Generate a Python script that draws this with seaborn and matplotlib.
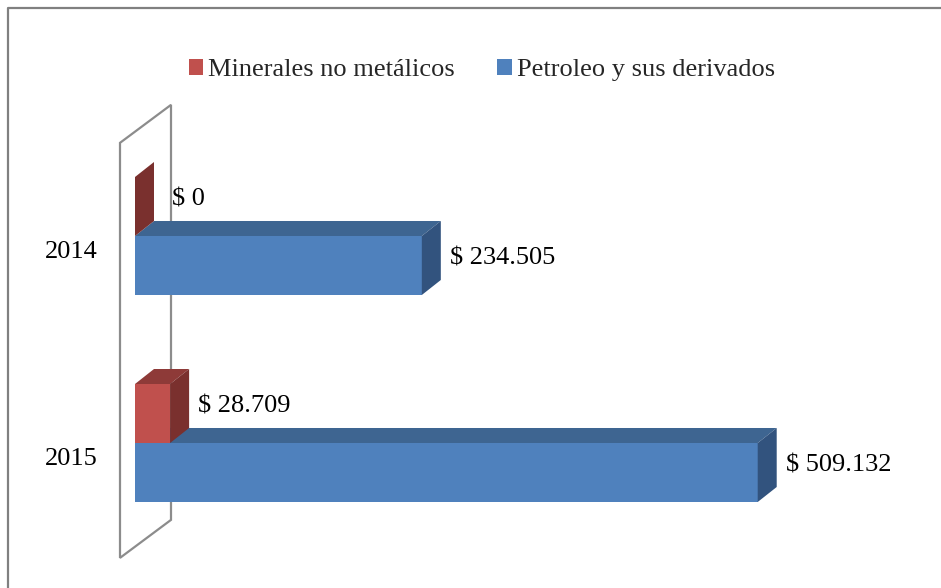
import matplotlib
matplotlib.use("Agg")
import matplotlib.pyplot as plt
from matplotlib.patches import Polygon
from matplotlib.lines import Line2D
from matplotlib.transforms import IdentityTransform, ScaledTranslation
import seaborn as sns
import pandas as pd

# data
years = ["2014", "2015"]
series = ["Minerales no metálicos", "Petroleo y sus derivados"]
minerales = [0, 28709]
petroleo = [234505, 509132]

front_col = {series[0]: "#C0504D", series[1]: "#4F81BD"}
top_col = {series[0]: "#8E3A38", series[1]: "#3E6591"}
side_col = {series[0]: "#7A302E", series[1]: "#32537E"}

df = pd.DataFrame({
    "year": years * 2,
    "serie": [series[0]] * 2 + [series[1]] * 2,
    "value": minerales + petroleo,
})

sns.set_theme(style="white")
plt.rcParams["font.family"] = ["Liberation Serif", "DejaVu Serif"]

W, H = 941, 588
FS = 19
fig = plt.figure(figsize=(W / 100, H / 100), dpi=100)
ax = fig.add_axes([135 / W, 1 - 575 / H, 795 / W, 485 / H])

sns.barplot(data=df, y="year", x="value", hue="serie", hue_order=series,
            order=years, orient="h", palette=front_col, saturation=1,
            width=0.57, linewidth=0, edgecolor="none", ax=ax)

handles, labels = ax.get_legend_handles_labels()
ax.get_legend().remove()

ax.set_xlim(0, 650000)
ax.set_ylim(1.6377, -0.7053)
ax.set_xticks([])
ax.set_xlabel("")
ax.set_ylabel("")
for s in ax.spines.values():
    s.set_visible(False)
ax.tick_params(axis="y", length=0, pad=27, labelsize=FS, labelcolor="black")
for lab in ax.get_yticklabels():
    lab.set_transform(lab.get_transform() + ScaledTranslation(0, -0.14, fig.dpi_scale_trans))

# 3D depth in pixels
dx, dy = 19, 15
ident = IdentityTransform()

for cont, name in zip(ax.containers, series):
    z = 4 if name == series[0] else 2
    for bar, val in zip(cont, cont.datavalues):
        bar.set_zorder(z)
        x0, y0 = bar.get_x(), bar.get_y()
        x1, y1 = x0 + bar.get_width(), y0 + bar.get_height()
        (xl, ya), (xr, yb2) = ax.transData.transform([(x0, y0), (x1, y1)])
        yt, yb = max(ya, yb2), min(ya, yb2)
        top = [(xl, yt), (xr, yt), (xr + dx, yt + dy), (xl + dx, yt + dy)]
        side = [(xr, yb), (xr, yt), (xr + dx, yt + dy), (xr + dx, yb + dy)]
        ax.add_patch(Polygon(top, closed=True, transform=ident, clip_on=False,
                             facecolor=top_col[name], edgecolor="none", zorder=z))
        ax.add_patch(Polygon(side, closed=True, transform=ident, clip_on=False,
                             facecolor=side_col[name], edgecolor="none", zorder=z))
        txt = "$ " + f"{int(val):,}".replace(",", ".")
        gap = 18 if val == 0 else 9
        ax.annotate(txt, xy=(val, (y0 + y1) / 2), xytext=(dx + gap, 7),
                    textcoords="offset pixels", ha="left", va="center",
                    fontsize=FS, color="black", zorder=5)

# back wall at value 0
(wx, wy_top), (_, wy_bot) = ax.transData.transform([(0, -0.45), (0, 1.555)])
wall = [(wx - 15, wy_top), (wx + 36, wy_top + 38), (wx + 36, wy_bot + 38), (wx - 15, wy_bot)]
ax.add_patch(Polygon(wall, closed=True, transform=ident, clip_on=False,
                     facecolor="none", edgecolor="#8C8C8C", lw=1.6, zorder=0.5))

fig.legend(handles, labels, loc="center", bbox_to_anchor=(482 / W, 1 - 70 / H),
           ncol=2, frameon=False, fontsize=FS, handlelength=0.55, handleheight=0.55,
           handletextpad=0.2, columnspacing=1.6)

# chart area border
fig.add_artist(Line2D([8 / W, 8 / W, 1], [0, 1 - 8 / H, 1 - 8 / H],
                      transform=fig.transFigure, color="#808080", lw=1.6))

fig.savefig("out.png", dpi=100)
